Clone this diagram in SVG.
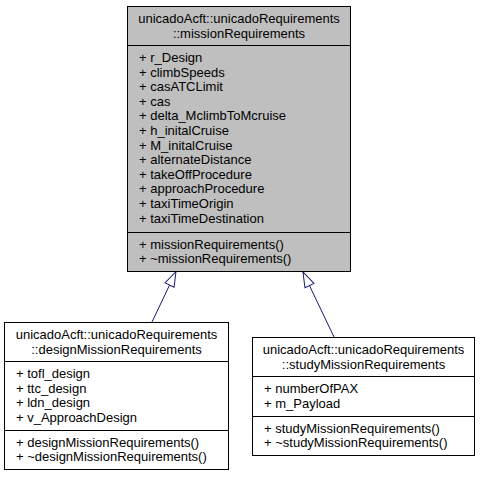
<svg xmlns="http://www.w3.org/2000/svg" width="480" height="477" viewBox="0 0 480 477">
<defs>
<style>
.box{stroke:#000;stroke-width:1;}
.main{fill:#bfbfbf;}
.plain{fill:#fff;}
.sep{stroke:#000;stroke-width:1;fill:none;}
text{font-family:"Liberation Sans",Arial,sans-serif;font-size:13px;fill:#000;}
.c{text-anchor:middle;}
.edge{stroke:#191970;stroke-width:1;fill:none;}
</style>
<marker id="inh" markerUnits="userSpaceOnUse" markerWidth="18" markerHeight="14" viewBox="-16 -7 18 14" refX="0" refY="0" orient="auto">
<path d="M0,0 L-15,-5 L-15,5 Z" fill="#fff" stroke="#191970" stroke-width="1"/>
</marker>
</defs>
<rect width="480" height="477" fill="#fff"/>
<g id="edges">
<path class="edge" d="M152,322 L176,271.5" marker-end="url(#inh)"/>
<path class="edge" d="M334,337 L303,272" marker-end="url(#inh)"/>
</g>
<g id="missionRequirements">
<rect class="box main" x="127.5" y="6.5" width="223" height="265"/>
<line class="sep" x1="127.5" y1="45.5" x2="350.5" y2="45.5"/>
<line class="sep" x1="127.5" y1="232.5" x2="350.5" y2="232.5"/>
<text class="c" x="239" y="23">unicadoAcft::unicadoRequirements</text>
<text class="c" x="239" y="37.5">::missionRequirements</text>
<text x="139" y="62">+ r_Design</text>
<text x="139" y="76.6">+ climbSpeeds</text>
<text x="139" y="91.2">+ casATCLimit</text>
<text x="139" y="105.8">+ cas</text>
<text x="139" y="120.4">+ delta_MclimbToMcruise</text>
<text x="139" y="135">+ h_initalCruise</text>
<text x="139" y="149.6">+ M_initalCruise</text>
<text x="139" y="164.2">+ alternateDistance</text>
<text x="139" y="178.8">+ takeOffProcedure</text>
<text x="139" y="193.4">+ approachProcedure</text>
<text x="139" y="208">+ taxiTimeOrigin</text>
<text x="139" y="222.6">+ taxiTimeDestination</text>
<text x="139" y="248.5">+ missionRequirements()</text>
<text x="139" y="263">+ ~missionRequirements()</text>
</g>
<g id="designMissionRequirements">
<rect class="box plain" x="4.5" y="322.5" width="224" height="147"/>
<line class="sep" x1="4.5" y1="361.5" x2="228.5" y2="361.5"/>
<line class="sep" x1="4.5" y1="430.5" x2="228.5" y2="430.5"/>
<text class="c" x="116.5" y="339">unicadoAcft::unicadoRequirements</text>
<text class="c" x="116.5" y="353.5">::designMissionRequirements</text>
<text x="16" y="378">+ tofl_design</text>
<text x="16" y="392.6">+ ttc_design</text>
<text x="16" y="407.2">+ ldn_design</text>
<text x="16" y="421.8">+ v_ApproachDesign</text>
<text x="16" y="446.5">+ designMissionRequirements()</text>
<text x="16" y="461">+ ~designMissionRequirements()</text>
</g>
<g id="studyMissionRequirements">
<rect class="box plain" x="252.5" y="337.5" width="222" height="118"/>
<line class="sep" x1="252.5" y1="376.5" x2="474.5" y2="376.5"/>
<line class="sep" x1="252.5" y1="416.5" x2="474.5" y2="416.5"/>
<text class="c" x="363.5" y="354">unicadoAcft::unicadoRequirements</text>
<text class="c" x="363.5" y="368.5">::studyMissionRequirements</text>
<text x="264" y="393">+ numberOfPAX</text>
<text x="264" y="407.6">+ m_Payload</text>
<text x="264" y="432.5">+ studyMissionRequirements()</text>
<text x="264" y="447">+ ~studyMissionRequirements()</text>
</g>
</svg>
